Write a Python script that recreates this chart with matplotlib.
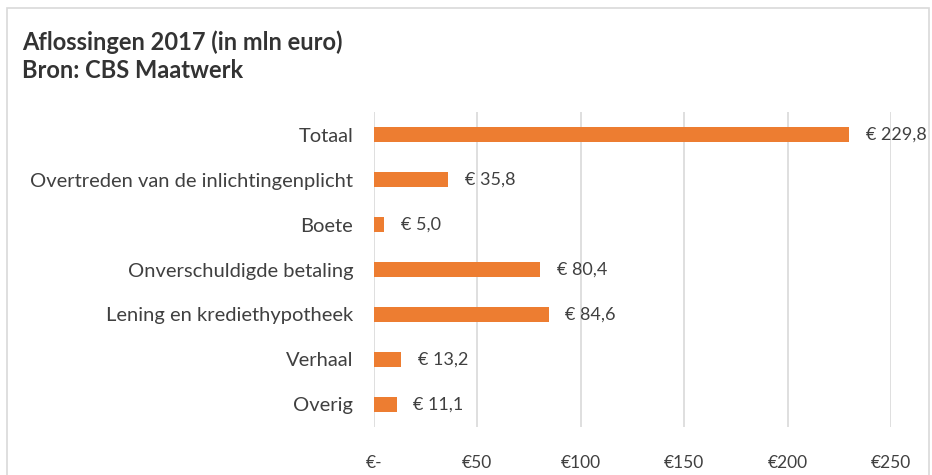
import matplotlib
matplotlib.use("Agg")
from matplotlib import pyplot as plt
from matplotlib.patches import Rectangle

# Data (in mln euro)
categories = ["Totaal", "Overtreden van de inlichtingenplicht", "Boete",
              "Onverschuldigde betaling", "Lening en krediethypotheek",
              "Verhaal", "Overig"]
values = [229.8, 35.8, 5.0, 80.4, 84.6, 13.2, 11.1]
xticks = [0, 50, 100, 150, 200, 250]
xtick_labels = ["€-", "€50", "€100", "€150", "€200", "€250"]

orange = "#ED7D31"
txt = "#404040"
plt.rcParams['font.family'] = ['Lato', 'DejaVu Sans']

fig = plt.figure(figsize=(9.32, 4.75), dpi=100)
# chart border
fig.patches.append(Rectangle((7 / 932, -0.1), (929 - 7) / 932, 1.1 - 8 / 475,
                             transform=fig.transFigure, fill=False,
                             edgecolor="#d9d9d9", linewidth=1.2))

ax = fig.add_axes([374 / 932, 1 - 427 / 475, (891 - 374) / 932, (427 - 112) / 475])
pos = list(range(len(categories)))[::-1]
ax.barh(pos, values, height=0.33, color=orange, zorder=3)

for p, v in zip(pos, values):
    lab = "€ " + f"{v:.1f}".replace(".", ",")
    ax.text(v + 8, p, lab, va="center", ha="left", fontsize=13, color=txt)

ax.set_xlim(0, 250)
ax.set_ylim(-0.5, len(categories) - 0.5)
ax.set_xticks(xticks)
ax.set_xticklabels(xtick_labels, fontsize=12.5, color=txt)
ax.set_yticks(pos)
ax.set_yticklabels(categories, fontsize=14.5, color=txt)
ax.tick_params(axis="both", length=0)
ax.tick_params(axis="x", pad=20)
ax.tick_params(axis="y", pad=15)
ax.grid(axis="x", color="#d9d9d9", linewidth=1.2, zorder=0)
for s in ax.spines.values():
    s.set_visible(False)

fig.text(22 / 932, 1 - 42 / 475, "Aflossingen 2017 (in mln euro)", fontsize=17,
         fontweight="bold", color="#333333", va="center")
fig.text(22 / 932, 1 - 70 / 475, "Bron: CBS Maatwerk", fontsize=17,
         fontweight="bold", color="#333333", va="center")

fig.savefig("out.png", dpi=100)
